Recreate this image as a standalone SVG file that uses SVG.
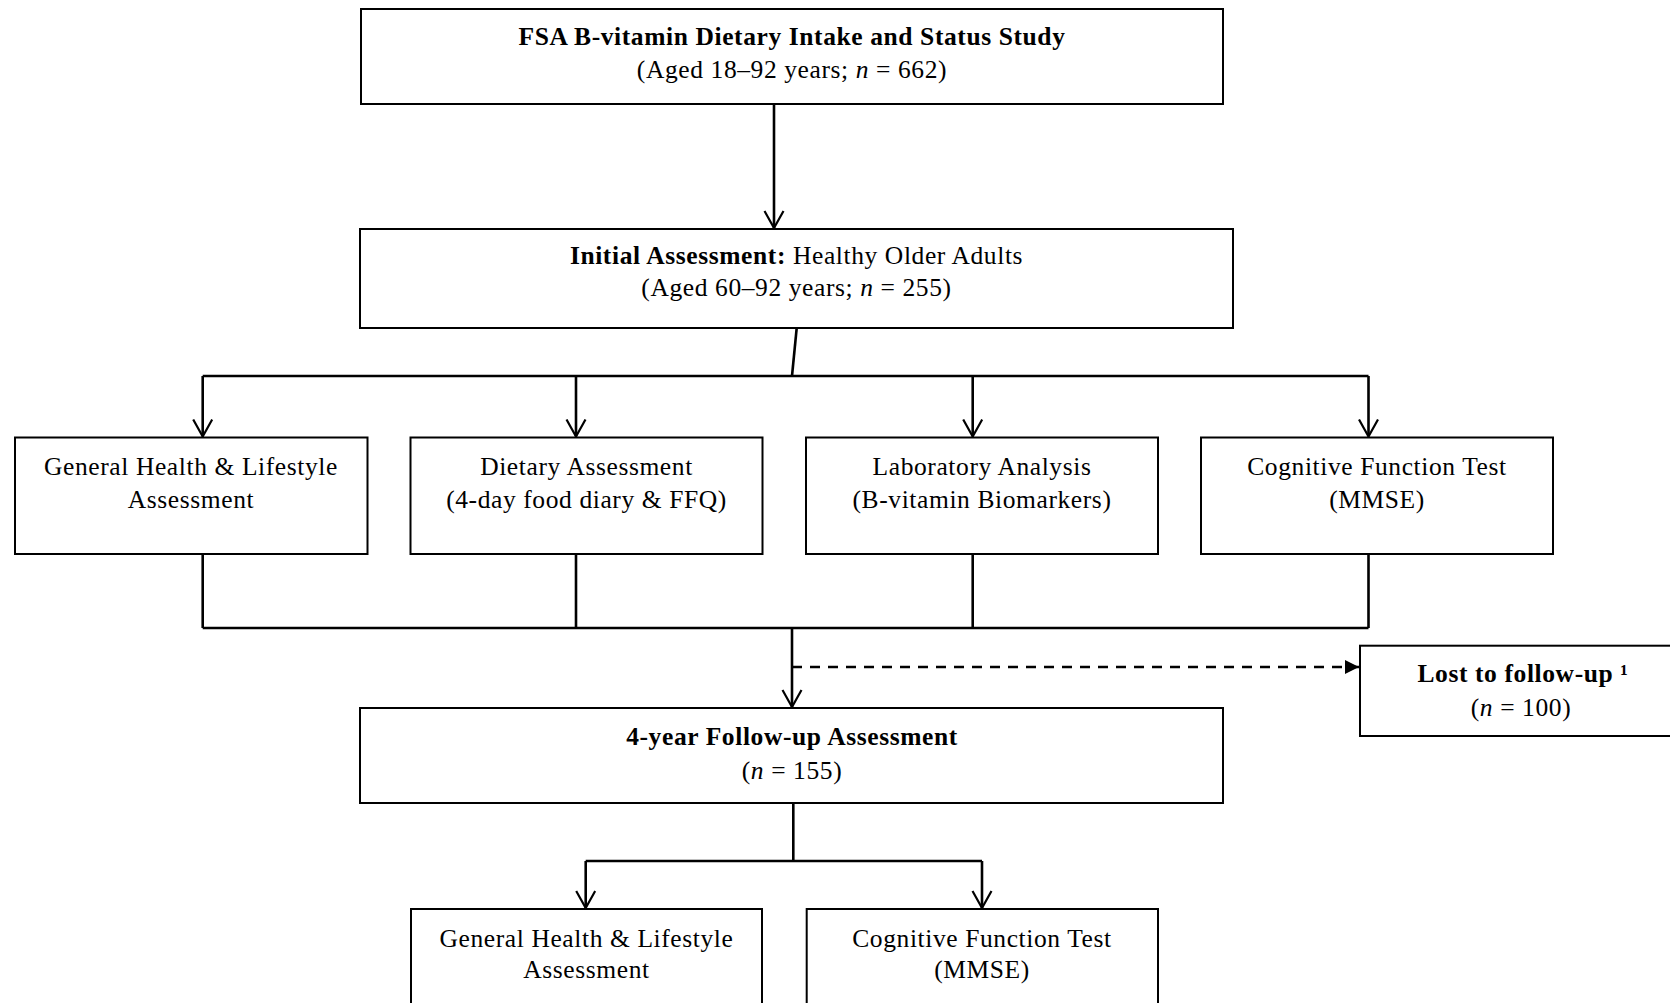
<svg xmlns="http://www.w3.org/2000/svg" width="1670" height="1003" viewBox="0 0 1670 1003">
<style>
.box{fill:#fff;stroke:#000;stroke-width:2}
.t{font-family:"Liberation Serif","Times New Roman",serif;font-size:25.5px;letter-spacing:0.6px;fill:#000;text-anchor:middle}
.b{font-weight:bold}
.i{font-style:italic}
.c{fill:none;stroke:#000;stroke-width:2.6}
.a{fill:none;stroke:#000;stroke-width:2.6;marker-end:url(#open)}
.d{fill:none;stroke:#000;stroke-width:2.6;stroke-dasharray:10 8;marker-end:url(#solid)}
</style>
<defs>
<marker id="open" markerUnits="userSpaceOnUse" viewBox="-1 -1 20 22" markerWidth="20" markerHeight="22" refX="17" refY="9.5" orient="auto">
<path d="M0,0 L17,9.5 L0,19" fill="none" stroke="#000" stroke-width="2.2"/>
</marker>
<marker id="solid" markerUnits="userSpaceOnUse" viewBox="0 0 14 14" markerWidth="14" markerHeight="14" refX="14" refY="7" orient="auto">
<path d="M0,0 L14,7 L0,14 Z" fill="#000"/>
</marker>
</defs>
<rect width="1670" height="1003" fill="#fff"/>
<g id="connectors">
<line class="a" x1="774" y1="104" x2="774" y2="228"/>
<line class="c" x1="796.7" y1="328" x2="792" y2="376"/>
<line class="c" x1="202.7" y1="376" x2="1368.5" y2="376"/>
<polyline class="a" points="202.7,376 202.7,436.5"/>
<line class="a" x1="576" y1="376" x2="576" y2="436.5"/>
<line class="a" x1="972.7" y1="376" x2="972.7" y2="436.5"/>
<polyline class="a" points="1368.5,376 1368.5,436.5"/>
<line class="c" x1="202.7" y1="554" x2="202.7" y2="628"/>
<line class="c" x1="576" y1="554" x2="576" y2="628"/>
<line class="c" x1="972.7" y1="554" x2="972.7" y2="628"/>
<line class="c" x1="1368.5" y1="554" x2="1368.5" y2="628"/>
<line class="c" x1="202.7" y1="628" x2="1368.5" y2="628"/>
<line class="a" x1="792" y1="628" x2="792" y2="707"/>
<line class="d" x1="792" y1="667" x2="1359" y2="667"/>
<line class="c" x1="793.3" y1="803" x2="793.3" y2="861"/>
<line class="c" x1="585.7" y1="861" x2="982" y2="861"/>
<line class="a" x1="585.7" y1="861" x2="585.7" y2="908"/>
<line class="a" x1="982" y1="861" x2="982" y2="908"/>
</g>
<g id="node-fsa">
<rect class="box" x="361" y="9" width="862" height="95"/>
<text class="t b" x="792" y="45">FSA B-vitamin Dietary Intake and Status Study</text>
<text class="t" x="792" y="78">(Aged 18–92 years; <tspan class="i">n</tspan> = 662)</text>
</g>
<g id="node-initial">
<rect class="box" x="360" y="229" width="873" height="99"/>
<text class="t" x="796.5" y="264"><tspan class="b">Initial Assessment:</tspan> Healthy Older Adults</text>
<text class="t" x="796.5" y="296">(Aged 60–92 years; <tspan class="i">n</tspan> = 255)</text>
</g>
<g id="node-health1">
<rect class="box" x="15" y="437.5" width="352.5" height="116.5"/>
<text class="t" x="191" y="475">General Health &amp; Lifestyle</text>
<text class="t" x="191" y="508">Assessment</text>
</g>
<g id="node-diet">
<rect class="box" x="410.5" y="437.5" width="352" height="116.5"/>
<text class="t" x="586.5" y="475">Dietary Assessment</text>
<text class="t" x="586.5" y="508">(4-day food diary &amp; FFQ)</text>
</g>
<g id="node-lab">
<rect class="box" x="806" y="437.5" width="352" height="116.5"/>
<text class="t" x="982" y="475">Laboratory Analysis</text>
<text class="t" x="982" y="508">(B-vitamin Biomarkers)</text>
</g>
<g id="node-cog1">
<rect class="box" x="1201" y="437.5" width="352" height="116.5"/>
<text class="t" x="1377" y="475">Cognitive Function Test</text>
<text class="t" x="1377" y="508">(MMSE)</text>
</g>
<g id="node-lost">
<rect class="box" x="1360" y="645.7" width="330" height="90.3"/>
<text class="t b" x="1523" y="681.5">Lost to follow-up ¹</text>
<text class="t" x="1521" y="715.5">(<tspan class="i">n</tspan> = 100)</text>
</g>
<g id="node-followup">
<rect class="box" x="360" y="708" width="863" height="95"/>
<text class="t b" x="792" y="745">4-year Follow-up Assessment</text>
<text class="t" x="792" y="779">(<tspan class="i">n</tspan> = 155)</text>
</g>
<g id="node-health2">
<rect class="box" x="411" y="909" width="351" height="110"/>
<text class="t" x="586.5" y="946.5">General Health &amp; Lifestyle</text>
<text class="t" x="586.5" y="978">Assessment</text>
</g>
<g id="node-cog2">
<rect class="box" x="806.7" y="909" width="351.3" height="110"/>
<text class="t" x="982" y="946.5">Cognitive Function Test</text>
<text class="t" x="982" y="978">(MMSE)</text>
</g>
</svg>
